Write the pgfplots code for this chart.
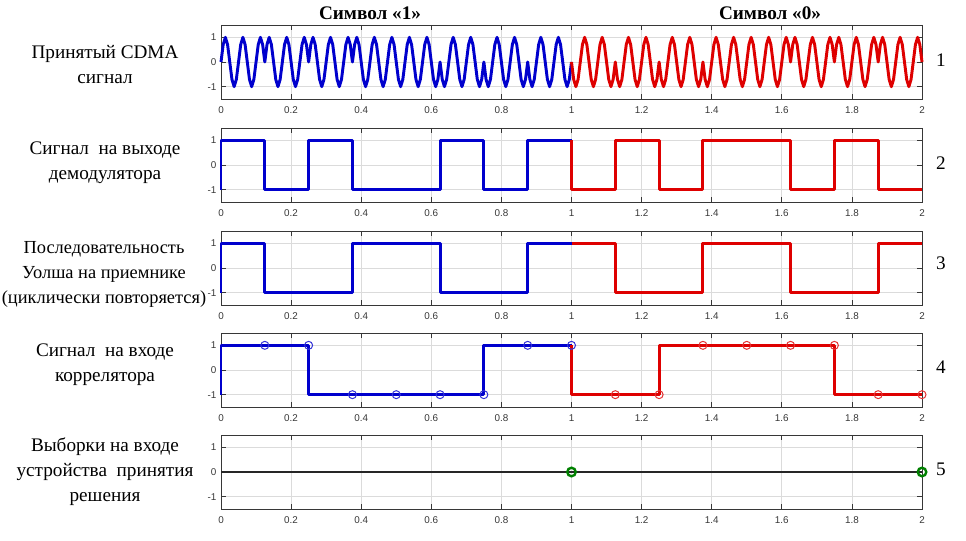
\documentclass[border=0pt]{standalone}
\usepackage{pgfplots}
\pgfplotsset{compat=1.18}
\usepackage{fontspec}
\setmainfont{Liberation Serif}
\setsansfont{Liberation Sans}
\definecolor{mblue}{RGB}{0,0,205}
\definecolor{mred}{RGB}{222,0,0}
\definecolor{mgreen}{RGB}{0,128,0}
\definecolor{axc}{RGB}{55,55,55}
\pgfplotsset{
 panel/.style={
  scale only axis, width=525.75pt, height=55.5pt, anchor=north west,
  xmin=0,xmax=2,ymin=-1.5,ymax=1.5, clip=false,
  xtick={0,0.2,0.4,0.6,0.8,1,1.2,1.4,1.6,1.8,2},
  ytick={-1,0,1},
  grid=major, major grid style={draw=black!14, line width=0.5pt},
  axis line style={draw=axc, line width=0.7pt},
  tick style={draw=axc, line width=0.6pt},
  major tick length=4pt,
  tick label style={font=\sffamily\fontsize{7.4}{8}\selectfont, text=axc},
  xticklabel style={yshift=-2.5pt},
  /pgf/number format/assume math mode=true,
 },
 sig/.style={line width=2.2pt, line join=round},
}
\begin{document}
\begin{tikzpicture}[x=0.75pt,y=0.75pt]
\path (0,0) rectangle (966,540);
% panel 1
\begin{axis}[panel, at={(165.75pt,386.25pt)}]
\addplot[sig, mblue] coordinates {
(0,0)(0.00625,0.707)(0.0125,1)(0.01875,0.707)(0.025,0)(0.03125,-0.707)(0.0375,-1)(0.04375,-0.707)(0.05,0)(0.05625,0.707)(0.0625,1)(0.06875,0.707)(0.075,0)(0.08125,-0.707)(0.0875,-1)(0.09375,-0.707)(0.1,0)(0.10625,0.707)(0.1125,1)(0.11875,0.707)
(0.125,0)(0.13125,0.707)(0.1375,1)(0.14375,0.707)(0.15,0)(0.15625,-0.707)(0.1625,-1)(0.16875,-0.707)(0.175,0)(0.18125,0.707)(0.1875,1)(0.19375,0.707)(0.2,0)(0.20625,-0.707)(0.2125,-1)(0.21875,-0.707)(0.225,0)(0.23125,0.707)(0.2375,1)(0.24375,0.707)
(0.25,0)(0.25625,0.707)(0.2625,1)(0.26875,0.707)(0.275,0)(0.28125,-0.707)(0.2875,-1)(0.29375,-0.707)(0.3,0)(0.30625,0.707)(0.3125,1)(0.31875,0.707)(0.325,0)(0.33125,-0.707)(0.3375,-1)(0.34375,-0.707)(0.35,0)(0.35625,0.707)(0.3625,1)(0.36875,0.707)
(0.375,0)(0.38125,0.707)(0.3875,1)(0.39375,0.707)(0.4,0)(0.40625,-0.707)(0.4125,-1)(0.41875,-0.707)(0.425,0)(0.43125,0.707)(0.4375,1)(0.44375,0.707)(0.45,0)(0.45625,-0.707)(0.4625,-1)(0.46875,-0.707)(0.475,0)(0.48125,0.707)(0.4875,1)(0.49375,0.707)
(0.5,0)(0.50625,-0.707)(0.5125,-1)(0.51875,-0.707)(0.525,0)(0.53125,0.707)(0.5375,1)(0.54375,0.707)(0.55,0)(0.55625,-0.707)(0.5625,-1)(0.56875,-0.707)(0.575,0)(0.58125,0.707)(0.5875,1)(0.59375,0.707)(0.6,0)(0.60625,-0.707)(0.6125,-1)(0.61875,-0.707)
(0.625,0)(0.63125,-0.707)(0.6375,-1)(0.64375,-0.707)(0.65,0)(0.65625,0.707)(0.6625,1)(0.66875,0.707)(0.675,0)(0.68125,-0.707)(0.6875,-1)(0.69375,-0.707)(0.7,0)(0.70625,0.707)(0.7125,1)(0.71875,0.707)(0.725,0)(0.73125,-0.707)(0.7375,-1)(0.74375,-0.707)
(0.75,0)(0.75625,-0.707)(0.7625,-1)(0.76875,-0.707)(0.775,0)(0.78125,0.707)(0.7875,1)(0.79375,0.707)(0.8,0)(0.80625,-0.707)(0.8125,-1)(0.81875,-0.707)(0.825,0)(0.83125,0.707)(0.8375,1)(0.84375,0.707)(0.85,0)(0.85625,-0.707)(0.8625,-1)(0.86875,-0.707)
(0.875,0)(0.88125,-0.707)(0.8875,-1)(0.89375,-0.707)(0.9,0)(0.90625,0.707)(0.9125,1)(0.91875,0.707)(0.925,0)(0.93125,-0.707)(0.9375,-1)(0.94375,-0.707)(0.95,0)(0.95625,0.707)(0.9625,1)(0.96875,0.707)(0.975,0)(0.98125,-0.707)(0.9875,-1)(0.99375,-0.707)(1,0)
};
\addplot[sig, mred] coordinates {
(1,0)(1.00625,-0.707)(1.0125,-1)(1.01875,-0.707)(1.025,0)(1.03125,0.707)(1.0375,1)(1.04375,0.707)(1.05,0)(1.05625,-0.707)(1.0625,-1)(1.06875,-0.707)(1.075,0)(1.08125,0.707)(1.0875,1)(1.09375,0.707)(1.1,0)(1.10625,-0.707)(1.1125,-1)(1.11875,-0.707)
(1.125,0)(1.13125,-0.707)(1.1375,-1)(1.14375,-0.707)(1.15,0)(1.15625,0.707)(1.1625,1)(1.16875,0.707)(1.175,0)(1.18125,-0.707)(1.1875,-1)(1.19375,-0.707)(1.2,0)(1.20625,0.707)(1.2125,1)(1.21875,0.707)(1.225,0)(1.23125,-0.707)(1.2375,-1)(1.24375,-0.707)
(1.25,0)(1.25625,-0.707)(1.2625,-1)(1.26875,-0.707)(1.275,0)(1.28125,0.707)(1.2875,1)(1.29375,0.707)(1.3,0)(1.30625,-0.707)(1.3125,-1)(1.31875,-0.707)(1.325,0)(1.33125,0.707)(1.3375,1)(1.34375,0.707)(1.35,0)(1.35625,-0.707)(1.3625,-1)(1.36875,-0.707)
(1.375,0)(1.38125,-0.707)(1.3875,-1)(1.39375,-0.707)(1.4,0)(1.40625,0.707)(1.4125,1)(1.41875,0.707)(1.425,0)(1.43125,-0.707)(1.4375,-1)(1.44375,-0.707)(1.45,0)(1.45625,0.707)(1.4625,1)(1.46875,0.707)(1.475,0)(1.48125,-0.707)(1.4875,-1)(1.49375,-0.707)
(1.5,0)(1.50625,0.707)(1.5125,1)(1.51875,0.707)(1.525,0)(1.53125,-0.707)(1.5375,-1)(1.54375,-0.707)(1.55,0)(1.55625,0.707)(1.5625,1)(1.56875,0.707)(1.575,0)(1.58125,-0.707)(1.5875,-1)(1.59375,-0.707)(1.6,0)(1.60625,0.707)(1.6125,1)(1.61875,0.707)
(1.625,0)(1.63125,0.707)(1.6375,1)(1.64375,0.707)(1.65,0)(1.65625,-0.707)(1.6625,-1)(1.66875,-0.707)(1.675,0)(1.68125,0.707)(1.6875,1)(1.69375,0.707)(1.7,0)(1.70625,-0.707)(1.7125,-1)(1.71875,-0.707)(1.725,0)(1.73125,0.707)(1.7375,1)(1.74375,0.707)
(1.75,0)(1.75625,0.707)(1.7625,1)(1.76875,0.707)(1.775,0)(1.78125,-0.707)(1.7875,-1)(1.79375,-0.707)(1.8,0)(1.80625,0.707)(1.8125,1)(1.81875,0.707)(1.825,0)(1.83125,-0.707)(1.8375,-1)(1.84375,-0.707)(1.85,0)(1.85625,0.707)(1.8625,1)(1.86875,0.707)
(1.875,0)(1.88125,0.707)(1.8875,1)(1.89375,0.707)(1.9,0)(1.90625,-0.707)(1.9125,-1)(1.91875,-0.707)(1.925,0)(1.93125,0.707)(1.9375,1)(1.94375,0.707)(1.95,0)(1.95625,-0.707)(1.9625,-1)(1.96875,-0.707)(1.975,0)(1.98125,0.707)(1.9875,1)(1.99375,0.707)(2,0)
};
\end{axis}
% panel 2
\begin{axis}[panel, at={(165.75pt,309pt)}]
\addplot[sig, mblue] coordinates {(0,-1)(0,1)(0.125,1)(0.125,-1)(0.25,-1)(0.25,1)(0.375,1)(0.375,-1)(0.625,-1)(0.625,1)(0.75,1)(0.75,-1)(0.875,-1)(0.875,1)(1,1)};
\addplot[sig, mred] coordinates {(1,1)(1,-1)(1.125,-1)(1.125,1)(1.25,1)(1.25,-1)(1.375,-1)(1.375,1)(1.625,1)(1.625,-1)(1.75,-1)(1.75,1)(1.875,1)(1.875,-1)(2,-1)};
\end{axis}
% panel 3
\begin{axis}[panel, at={(165.75pt,231.75pt)}]
\addplot[sig, mblue] coordinates {(0,-1)(0,1)(0.125,1)(0.125,-1)(0.375,-1)(0.375,1)(0.625,1)(0.625,-1)(0.875,-1)(0.875,1)(1,1)};
\addplot[sig, mred] coordinates {(1,1)(1.125,1)(1.125,-1)(1.375,-1)(1.375,1)(1.625,1)(1.625,-1)(1.875,-1)(1.875,1)(2,1)};
\end{axis}
% panel 4
\begin{axis}[panel, at={(165.75pt,155.25pt)}]
\addplot[sig, mblue] coordinates {(0,-1)(0,1)(0.25,1)(0.25,-1)(0.75,-1)(0.75,1)(1,1)};
\addplot[sig, mred] coordinates {(1,1)(1,-1)(1.25,-1)(1.25,1)(1.75,1)(1.75,-1)(2,-1)};
\addplot[only marks, mark=o, mark size=3pt, mblue!80, mark options={line width=0.75pt}] coordinates {(0.125,1)(0.25,1)(0.375,-1)(0.5,-1)(0.625,-1)(0.75,-1)(0.875,1)(1,1)};
\addplot[only marks, mark=o, mark size=3pt, mred!80, mark options={line width=0.75pt}] coordinates {(1.125,-1)(1.25,-1)(1.375,1)(1.5,1)(1.625,1)(1.75,1)(1.875,-1)(2,-1)};
\end{axis}
% panel 5
\begin{axis}[panel, at={(165.75pt,78.75pt)}]
\addplot[black!85, line width=0.8pt] coordinates {(0,0)(2,0)};
\addplot[only marks, mark=o, mark size=3.2pt, mgreen, mark options={line width=1.8pt}] coordinates {(1,0)(2,0)};
\end{axis}
% texts
\begin{scope}[every node/.style={font=\fontsize{14.4}{18.75}\selectfont, align=center, inner sep=0pt}]
\node[font=\bfseries\fontsize{14.4}{16}\selectfont] at (370,527) {Символ «1»};
\node[font=\bfseries\fontsize{14.4}{16}\selectfont] at (770,527) {Символ «0»};
\node at (105,475) {Принятый CDMA\\сигнал};
\node at (105,377) {Сигнал\ \ на выходе\\демодулятора};
\node[font=\fontsize{13.8}{18.75}\selectfont] at (104,266) {Последовательность\\Уолша на приемнике\\(циклически повторяется)};
\node at (105,175.5) {Сигнал\ \ на входе\\коррелятора};
\node at (105,68) {Выборки на входе\\устройства\ \ принятия\\решения};
\node at (941,480) {1};
\node at (941,377) {2};
\node at (941,277) {3};
\node at (941,173) {4};
\node at (941,71) {5};
\end{scope}
\end{tikzpicture}
\end{document}
